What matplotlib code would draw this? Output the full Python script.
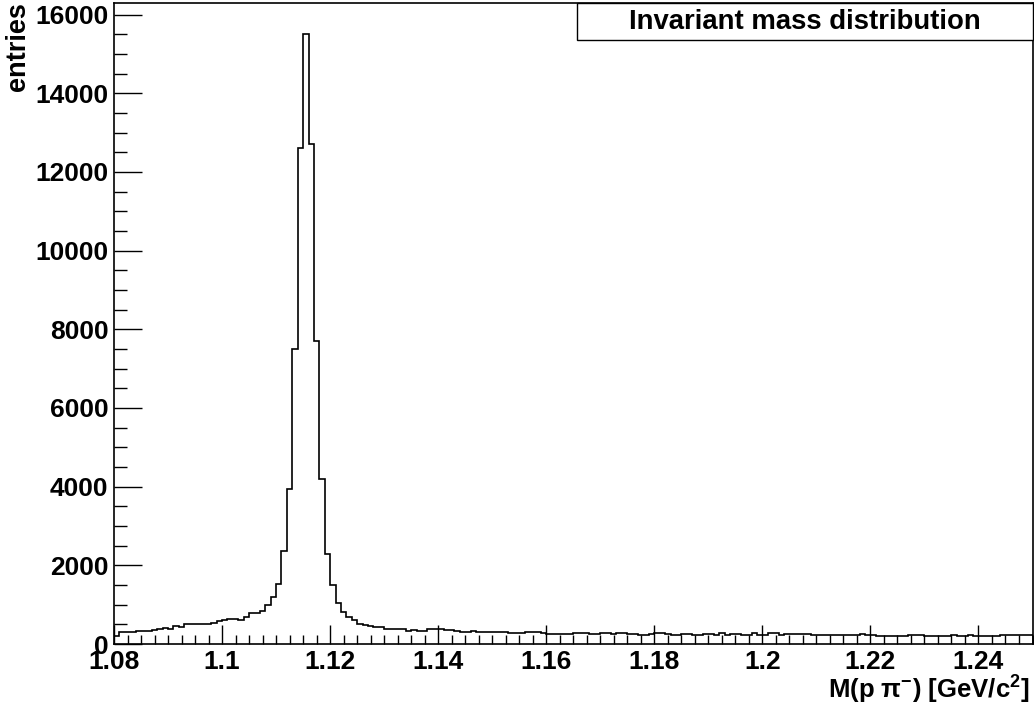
import matplotlib
matplotlib.use("Agg")
import matplotlib.pyplot as plt
import numpy as np
from matplotlib.patches import Rectangle
from matplotlib.ticker import MultipleLocator

plt.rcParams['font.family'] = ['Liberation Sans', 'DejaVu Sans']
plt.rcParams['font.weight'] = 'bold'
plt.rcParams['mathtext.fontset'] = 'custom'
plt.rcParams['mathtext.rm'] = 'Liberation Sans:bold'
plt.rcParams['mathtext.bf'] = 'Liberation Sans:bold'
plt.rcParams['mathtext.default'] = 'bf'

# histogram binning: 170 bins of 1 MeV from 1.08 to 1.25 GeV/c^2
x_lo, x_hi, n_bins = 1.08, 1.25, 170

# bin contents
entries_rise = [215, 300, 300, 300, 340, 340, 320, 360, 370, 400,
                370, 470, 440, 520, 510, 510, 505, 510, 540, 580,
                610, 640, 640, 620, 680, 800, 790, 850, 1000, 1190,
                1530]
entries_peak = [2360, 3950, 7500, 12600, 15520, 12700, 7700, 4200, 2300, 1500,
                1030, 820, 680, 600, 520, 490, 460]
entries_tail1 = [427, 427, 393, 380, 370, 370, 335, 345, 335, 335,
                 370, 370, 380, 345, 345, 325, 300, 300, 325, 310,
                 300, 300, 310, 310, 295, 275, 275, 270, 295, 300,
                 300, 275, 260, 260, 260, 260, 260, 275, 275, 275,
                 260, 260, 285, 285, 250, 275, 275, 260, 260, 240,
                 240, 260]
entries_tail2 = [275, 275, 260, 240, 240, 260, 260, 240, 240, 260,
                 260, 240, 275, 240, 260, 260, 240, 240, 285, 230,
                 230, 275, 275, 230, 260, 260, 260, 260, 260, 235,
                 235, 235, 235, 235, 235, 230, 230, 240, 260, 235,
                 235, 205, 205, 205, 205, 215, 215, 225, 225, 225,
                 200, 200, 210, 210, 210, 235, 210, 210, 225, 210,
                 210, 210, 210, 210, 225, 225, 225, 225, 225, 225]
counts = np.array(entries_rise + entries_peak + entries_tail1 + entries_tail2, dtype=float)
edges = np.linspace(x_lo, x_hi, n_bins + 1)

title = "Invariant mass distribution"
x_title = r"M(p $\pi^{-}$) [GeV/c$^{2}$]"
y_title = "entries"

W, H = 1034, 711
fig = plt.figure(figsize=(W / 100, H / 100), dpi=100)
ax = fig.add_axes([114 / W, 1 - 644 / H, (1032.5 - 114) / W, (644 - 3) / H])

ax.stairs(counts, edges, color='black', linewidth=1.2)

ax.set_xlim(x_lo, x_hi)
ax.set_ylim(0, 1.05 * counts.max())

ax.xaxis.set_major_locator(MultipleLocator(0.02))
ax.xaxis.set_minor_locator(MultipleLocator(0.0025))
ax.yaxis.set_major_locator(MultipleLocator(2000))
ax.yaxis.set_minor_locator(MultipleLocator(500))
ax.xaxis.set_major_formatter(plt.FuncFormatter(lambda v, p: f"{v:g}"))

ax.tick_params(axis='x', which='major', direction='in', length=13.7, width=1.0, pad=4.5, labelsize=19)
ax.tick_params(axis='x', which='minor', direction='in', length=6.5, width=1.0)
ax.tick_params(axis='y', which='major', direction='in', length=20, width=1.0, pad=4, labelsize=19)
ax.tick_params(axis='y', which='minor', direction='in', length=9.5, width=1.0)
for lbl in ax.get_xticklabels() + ax.get_yticklabels():
    lbl.set_fontweight('bold')
for s in ax.spines.values():
    s.set_linewidth(1.2)

# axis titles placed ROOT-style (right / top aligned)
fig.text(1030 / W, 1 - 699 / H, x_title, ha='right', va='baseline', fontsize=18.5, fontweight='bold')
fig.text(18 / W, 1 - 2 / H, y_title, rotation=90, ha='center', va='top', fontsize=19.5, fontweight='bold')

# title box
fig.add_artist(Rectangle((577 / W, 1 - 40 / H), (1032.5 - 577) / W, 37 / H,
                         transform=fig.transFigure, facecolor='white', edgecolor='black',
                         linewidth=1.0, zorder=5))
fig.text((577 + 1032.5) / 2 / W, 1 - 22 / H, title, ha='center', va='center',
         fontsize=19.8, fontweight='bold', zorder=6)

fig.savefig("out.png", dpi=100)
